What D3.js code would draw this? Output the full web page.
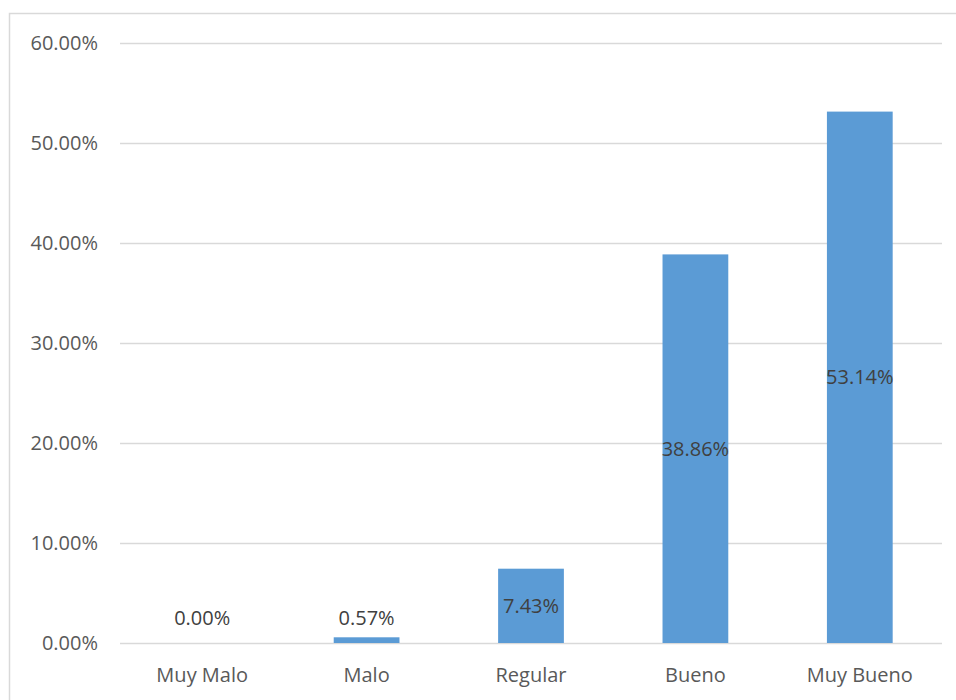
<!DOCTYPE html>
<html><head><meta charset="utf-8">
<script src="https://cdn.jsdelivr.net/npm/d3@7"></script>
<style>body{margin:0;background:#fff}svg{display:block}</style>
</head><body>
<script>
const categories = ["Muy Malo","Malo","Regular","Bueno","Muy Bueno"];
const values = [0.0, 0.57, 7.43, 38.86, 53.14];
const yTicks = [0,10,20,30,40,50,60];

const W=956,H=700;
const svg=d3.select("body").append("svg").attr("width",W).attr("height",H);
const font="'Open Sans', sans-serif";
const fs="20px";
svg.append("rect").attr("x",9.5).attr("y",13.5).attr("width",960).attr("height",700)
  .attr("fill","#fff").attr("stroke","#d9d9d9").attr("stroke-width",1.5);

const x=d3.scaleBand().domain(categories).range([120,942]).paddingInner(0.6).paddingOuter(0.3);
const y=d3.scaleLinear().domain([0,60]).range([643,43]);

const g=svg.append("g");
const yAxis=g.append("g").attr("transform","translate(120,0)")
  .call(d3.axisLeft(y).tickValues(yTicks).tickSize(-822).tickPadding(22).tickFormat(d=>d.toFixed(2)+"%"));
yAxis.select(".domain").remove();
yAxis.selectAll("line").attr("stroke","#d9d9d9").attr("stroke-width",1.5);
yAxis.selectAll("text").attr("fill","#595959").style("font-family",font).style("font-size",fs);

g.selectAll("rect.bar").data(values).join("rect").attr("class","bar")
  .attr("x",(d,i)=>x(categories[i])).attr("width",x.bandwidth())
  .attr("y",d=>y(d)).attr("height",d=>y(0)-y(d)).attr("fill","#5b9bd5");

const xAxis=g.append("g").attr("transform","translate(0,643)")
  .call(d3.axisBottom(x).tickSize(0).tickPadding(25));
xAxis.select(".domain").remove();
xAxis.selectAll("text").attr("fill","#595959").style("font-family",font).style("font-size",fs);

g.selectAll("text.lbl").data(values).join("text").attr("class","lbl")
  .attr("x",(d,i)=>x(categories[i])+x.bandwidth()/2)
  .attr("y",d=>Math.min((y(d)+y(0))/2, y(0)-25))
  .attr("dy","0.35em").attr("text-anchor","middle")
  .attr("fill","#404040").style("font-family",font).style("font-size",fs)
  .text(d=>d.toFixed(2)+"%");
</script>
</body></html>
